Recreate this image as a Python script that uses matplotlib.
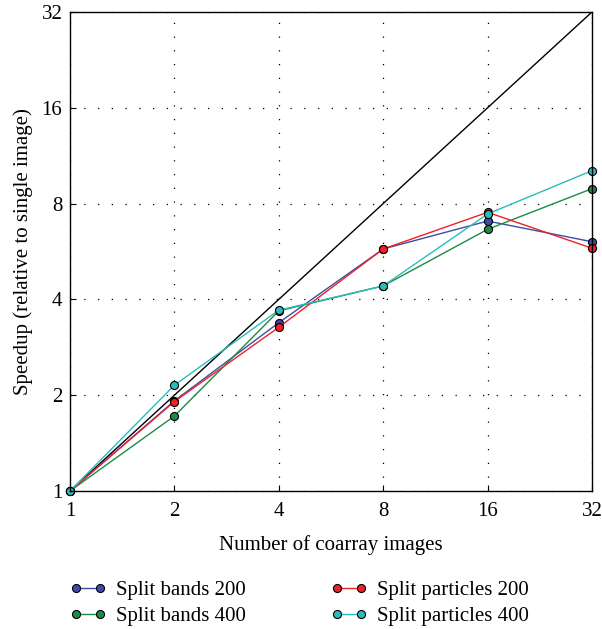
import matplotlib
matplotlib.use("Agg")
import matplotlib.pyplot as plt
from matplotlib.ticker import FixedLocator, NullLocator

plt.rcParams["font.family"] = ["Liberation Serif", "DejaVu Serif"]

images = [1, 2, 4, 8, 16, 32]
bands_200 = [1, 1.92, 3.38, 5.76, 7.05, 6.07]
bands_400 = [1, 1.72, 3.68, 4.41, 6.64, 8.91]
particles_200 = [1, 1.91, 3.27, 5.76, 7.51, 5.79]
particles_400 = [1, 2.15, 3.70, 4.41, 7.42, 10.15]
tick_vals = [1, 2, 4, 8, 16, 32]

fig = plt.figure(figsize=(6.02, 6.29), dpi=100)
ax = fig.add_axes([0.1163, 0.2194, 0.8671, 0.7616])

ax.plot(images, images, color="black", lw=1.0)

series = [
    ("Split bands 200", bands_200, "#3b4ea3"),
    ("Split bands 400", bands_400, "#1f8a45"),
    ("Split particles 200", particles_200, "#ee2128"),
    ("Split particles 400", particles_400, "#2cbcbc"),
]
handles = []
for name, vals, col in series:
    h, = ax.plot(images, vals, "-o", color=col, lw=1.0, ms=5.8,
                 markeredgecolor="black", markeredgewidth=0.8, clip_on=False,
                 label=name)
    handles.append(h)

ax.set_xscale("log", base=2)
ax.set_yscale("log", base=2)
ax.set_xlim(1, 32)
ax.set_ylim(1, 32)
ax.xaxis.set_major_locator(FixedLocator(tick_vals))
ax.yaxis.set_major_locator(FixedLocator(tick_vals))
ax.xaxis.set_minor_locator(NullLocator())
ax.yaxis.set_minor_locator(NullLocator())
ax.set_xticklabels([str(v) for v in tick_vals], fontsize=15)
ax.set_yticklabels([str(v) for v in tick_vals], fontsize=15)
ax.tick_params(direction="in", length=4, width=0.8)
ax.tick_params(axis="x", pad=8)
ax.tick_params(axis="y", pad=5.5)
ax.grid(True, color="black", linestyle=(0, (1, 10)), lw=0.9)
for s in ax.spines.values():
    s.set_linewidth(1.0)

ax.set_xlabel("Number of coarray images", fontsize=15, labelpad=10)
ax.set_ylabel("Speedup (relative to single image)", fontsize=15, labelpad=6)

leg_opts = dict(loc="center left", frameon=False, fontsize=15, numpoints=2,
                handlelength=1.72, labelspacing=0.3, handletextpad=0.5)
fig.legend(handles[:2], [h.get_label() for h in handles[:2]],
           bbox_to_anchor=(0.085, 0.0405), **leg_opts)
fig.legend(handles[2:], [h.get_label() for h in handles[2:]],
           bbox_to_anchor=(0.519, 0.0405), **leg_opts)

fig.savefig("out.png", dpi=100)
